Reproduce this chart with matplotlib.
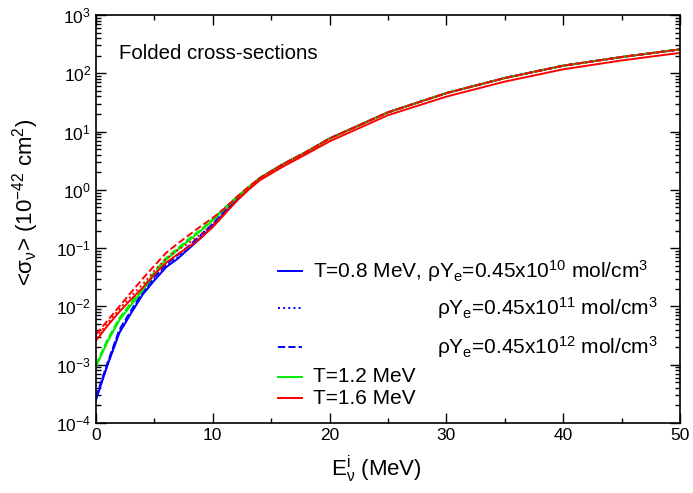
import numpy as np
import matplotlib
matplotlib.use("Agg")
import matplotlib.pyplot as plt
from matplotlib.ticker import LogLocator, MultipleLocator, NullFormatter

plt.rcParams['font.family'] = ['Liberation Sans', 'DejaVu Sans']
plt.rcParams['mathtext.fontset'] = 'custom'
plt.rcParams['mathtext.rm'] = 'Liberation Sans'
plt.rcParams['mathtext.it'] = 'Liberation Sans'
plt.rcParams['mathtext.bf'] = 'Liberation Sans:bold'

# Neutrino energy (MeV)
energy = [0, 1, 2, 3, 4, 5, 6, 7, 8, 9, 10, 11, 12, 13,
          14, 16, 18, 20, 25, 30, 35, 40, 45, 50]

high_upper = [1.58, 2.75, 4.47, 7.6, 21.4, 45.7, 83, 135, 190, 257]
high_lower = [1.45, 2.5, 4.1, 6.8, 19.1, 39.8, 72, 117, 166, 224]

# T = 0.8 MeV
t08_d10 = [2.5e-4, 1.0e-3, 3.5e-3, 7.6e-3, 1.6e-2, 2.8e-2, 4.7e-2, 6.6e-2, 0.100, 0.151,
           0.24, 0.40, 0.66, 1.02] + high_upper
t08_d11 = [2.6e-4, 1.05e-3, 3.7e-3, 7.9e-3, 1.66e-2, 2.95e-2, 4.9e-2, 6.9e-2, 0.105, 0.158,
           0.25, 0.41, 0.68, 1.05] + high_upper
t08_d12 = [2.8e-4, 1.1e-3, 4.0e-3, 8.5e-3, 1.78e-2, 3.2e-2, 5.2e-2, 7.6e-2, 0.112, 0.17,
           0.263, 0.43, 0.69, 1.07] + high_upper
# T = 1.2 MeV
t12_d10 = [9.3e-4, 2.5e-3, 5.8e-3, 1.05e-2, 1.9e-2, 3.55e-2, 6.3e-2, 9.3e-2, 0.138, 0.20,
           0.30, 0.47, 0.72, 1.07] + high_upper
t12_d11 = [9.6e-4, 2.6e-3, 6.0e-3, 1.09e-2, 1.97e-2, 3.7e-2, 6.5e-2, 9.6e-2, 0.142, 0.205,
           0.31, 0.48, 0.73, 1.08] + high_upper
t12_d12 = [1.0e-3, 2.75e-3, 6.3e-3, 1.15e-2, 2.1e-2, 3.9e-2, 6.8e-2, 0.10, 0.148, 0.21,
           0.315, 0.49, 0.74, 1.09] + high_upper
# T = 1.6 MeV
t16_d10 = [2.6e-3, 4.7e-3, 8.1e-3, 1.32e-2, 2.1e-2, 3.55e-2, 5.6e-2, 7.9e-2, 0.107, 0.151,
           0.23, 0.38, 0.63, 0.98] + high_lower
t16_d11 = [2.9e-3, 5.2e-3, 9.0e-3, 1.5e-2, 2.4e-2, 4.1e-2, 6.6e-2, 9.3e-2, 0.125, 0.175,
           0.26, 0.40, 0.65, 1.0] + high_upper
t16_d12 = [3.3e-3, 5.75e-3, 1.0e-2, 1.74e-2, 3.0e-2, 5.0e-2, 8.3e-2, 0.12, 0.17, 0.24,
           0.33, 0.48, 0.74, 1.10] + high_upper

fig = plt.figure(figsize=(6.93, 4.93), dpi=100)
ax = fig.add_axes([96/693, 1 - 423/493, (680-96)/693, (423-15)/493])

lw = 1.4
series = [
    (t08_d10, 'blue', '-'), (t08_d11, 'blue', ':'), (t08_d12, 'blue', '--'),
    (t12_d10, '#00ee00', '-'), (t12_d11, '#00ee00', ':'), (t12_d12, '#00ee00', '--'),
    (t16_d10, 'red', '-'), (t16_d11, 'red', ':'), (t16_d12, 'red', '--'),
]
for vals, col, ls in series:
    ax.plot(energy, vals, color=col, ls=ls, lw=lw)

ax.set_yscale('log')
ax.set_xlim(0, 50)
ax.set_ylim(1e-4, 1e3)
ax.xaxis.set_major_locator(MultipleLocator(10))
ax.xaxis.set_minor_locator(MultipleLocator(5))
ax.yaxis.set_major_locator(LogLocator(base=10, numticks=20))
ax.yaxis.set_minor_locator(LogLocator(base=10, subs=np.arange(2, 10), numticks=20))
ax.yaxis.set_minor_formatter(NullFormatter())
ax.tick_params(which='both', direction='in', top=True, right=True, labelsize=12.5, width=1.0)
ax.tick_params(which='major', length=7)
ax.tick_params(which='minor', length=3.5)
for s in ax.spines.values():
    s.set_linewidth(1.2)

ax.set_xlabel(r'$\mathrm{E}_{\mathrm{ν}}^{\mathrm{i}}$ (MeV)', fontsize=16, labelpad=4)
ax.set_ylabel(r'<$\mathrm{σ}_{\mathrm{ν}}$> (10$^{-42}$ cm$^{2}$)', fontsize=16, labelpad=6)
ax.xaxis.set_label_coords(0.48, -0.075)
ax.yaxis.set_label_coords(-0.095, 0.54)

ax.text(0.04, 0.905, 'Folded cross-sections', transform=ax.transAxes, fontsize=14.7,
        va='center', ha='left')

# legend drawn manually
def px2ax(px, py):
    return ((px - 96) / (680 - 96), (423 - py) / (423 - 15))

rows = [
    (270.7, 'blue', '-', r'T=0.8 MeV, ρY$_{\mathrm{e}}$=0.45x10$^{10}$ mol/cm$^{3}$', 'left'),
    (308.0, 'blue', ':', r'ρY$_{\mathrm{e}}$=0.45x10$^{11}$ mol/cm$^{3}$', 'right'),
    (346.7, 'blue', '--', r'ρY$_{\mathrm{e}}$=0.45x10$^{12}$ mol/cm$^{3}$', 'right'),
    (376.7, '#00ee00', '-', 'T=1.2 MeV', 'left'),
    (398.3, 'red', '-', 'T=1.6 MeV', 'left'),
]
for py, col, ls, label, ha in rows:
    x0, y = px2ax(278, py)
    x1, _ = px2ax(302, py)
    ax.plot([x0, x1], [y, y], color=col, ls=ls, lw=lw, transform=ax.transAxes)
    if ha == 'left':
        xt, _ = px2ax(313, py)
    else:
        xt, _ = px2ax(658, py)
    ax.text(xt, y, label, transform=ax.transAxes, fontsize=15, va='center', ha=ha)

fig.savefig('out.png', dpi=100)
